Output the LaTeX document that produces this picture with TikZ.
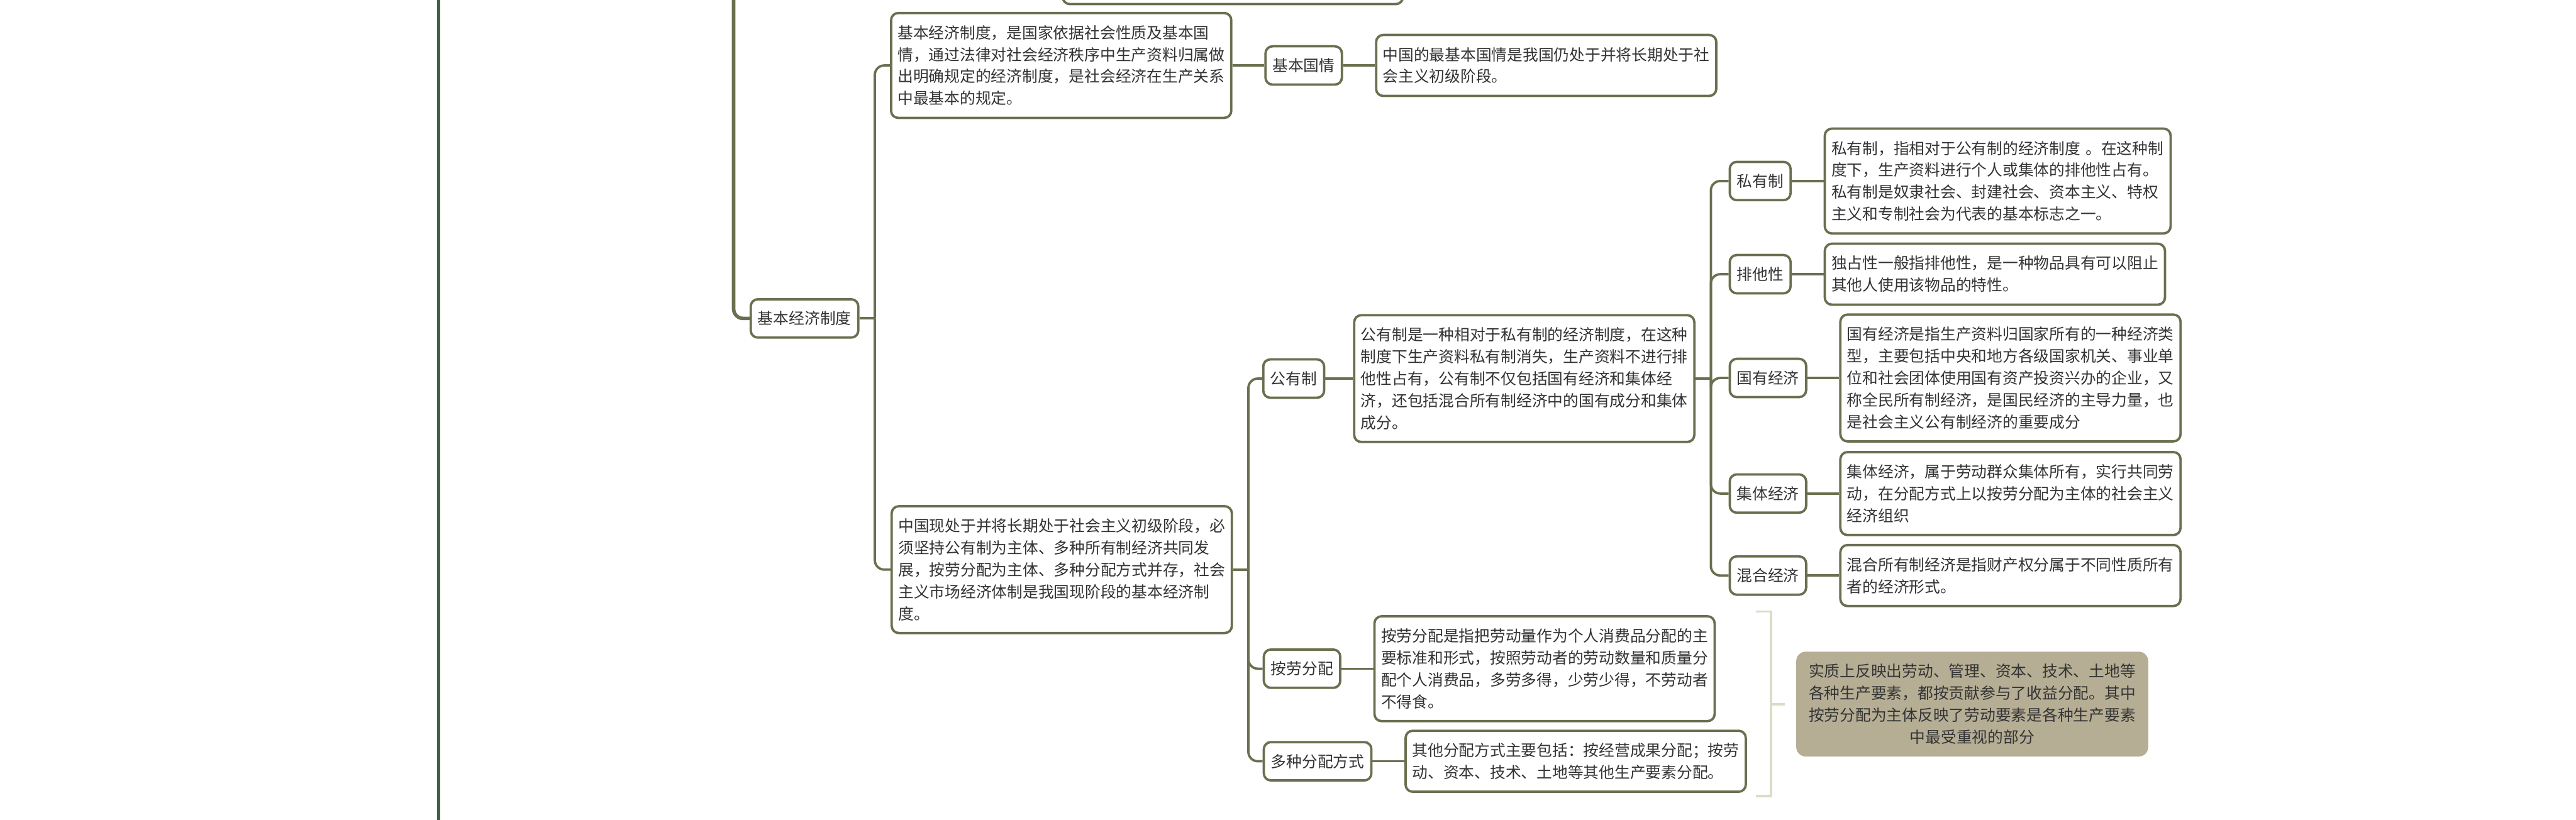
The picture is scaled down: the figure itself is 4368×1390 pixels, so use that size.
\documentclass[tikz,border=0pt]{standalone}
\usepackage{fontspec}
\setmainfont{Noto Sans CJK SC}
\usetikzlibrary{positioning}
\definecolor{mapline}{HTML}{6B6F4F}
\definecolor{maintrunk}{HTML}{3E6342}
\definecolor{txt}{HTML}{333333}
\definecolor{bracketc}{HTML}{DADCC8}
\definecolor{sumfill}{HTML}{B5AD94}

\begin{document}
\begin{tikzpicture}[x=0.25pt, y=-0.25pt,
        font=\fontsize{6.6pt}{9.3pt}\selectfont, text=txt,
        topic/.style={rectangle, draw=mapline, line width=1pt, rounded corners=3pt,
                      fill=white, inner xsep=3pt, inner ysep=2pt,
                      minimum height=16.25pt, anchor=west},
        note/.style={rectangle, draw=mapline, line width=1pt, rounded corners=3pt,
                     fill=white, text width=138.6pt, align=left,
                     inner xsep=2.8pt, inner ysep=2pt},
        nrow/.style={minimum height=#1*9.3pt+7.25pt},
        summ/.style={rectangle, fill=sumfill, rounded corners=4pt,
                     text width=138.6pt, align=center, inner xsep=5.3pt, inner ysep=2pt},
        link/.style={draw=mapline, line width=1pt, rounded corners=4pt},
        node distance=13.5pt]
      \useasboundingbox (0,0) rectangle (4368,1390);
      \clip (0,0) rectangle (4368,1390);

      \draw[maintrunk, line width=1.4pt] (744,-10) -- (744,1400);

      \node[note, minimum height=30pt, anchor=south west] (up) at (1800,9) {};

      \node[topic] (jbzd) at (1271,540) {基本经济制度};
      \draw[link, line width=1.5pt] (1244,-10) |- (jbzd.west);

      \node[note, nrow=4, anchor=west] (jd) at (1509,111)
           {基本经济制度，是国家依据社会性质及基本国\\情，通过法律对社会经济秩序中生产资料归属做\\出明确规定的经济制度，是社会经济在生产关系\\中最基本的规定。};
      \node[topic, right=of jd] (gq) {基本国情};
      \node[note, nrow=2, right=of gq] (gqd)
           {中国的最基本国情是我国仍处于并将长期处于社\\会主义初级阶段。};

      \node[note, nrow=5, anchor=west] (zg) at (1510,966)
           {中国现处于并将长期处于社会主义初级阶段，必\\须坚持公有制为主体、多种所有制经济共同发\\展，按劳分配为主体、多种分配方式并存，社会\\主义市场经济体制是我国现阶段的基本经济制\\度。};

      \node[topic] (gyz) at (2140,642) {公有制};
      \node[note, nrow=5, right=11.75pt of gyz] (gyzd)
           {公有制是一种相对于私有制的经济制度，在这种\\制度下生产资料私有制消失，生产资料不进行排\\他性占有，公有制不仅包括国有经济和集体经\\济，还包括混合所有制经济中的国有成分和集体\\成分。};

      \node[topic] (syz) at (2931,307) {私有制};
      \node[note, nrow=4, text width=141pt, right=of syz] (syzd)
           {私有制，指相对于公有制的经济制度 。在这种制\\度下，生产资料进行个人或集体的排他性占有。\\私有制是奴隶社会、封建社会、资本主义、特权\\主义和专制社会为代表的基本标志之一。};
      \node[topic] (pt) at (2931,465) {排他性};
      \node[note, nrow=2, right=of pt] (ptd)
           {独占性一般指排他性，是一种物品具有可以阻止\\其他人使用该物品的特性。};
      \node[topic] (gy) at (2931,641) {国有经济};
      \node[note, nrow=5, right=of gy] (gyd)
           {国有经济是指生产资料归国家所有的一种经济类\\型，主要包括中央和地方各级国家机关、事业单\\位和社会团体使用国有资产投资兴办的企业，又\\称全民所有制经济，是国民经济的主导力量，也\\是社会主义公有制经济的重要成分};
      \node[topic] (jt) at (2931,837) {集体经济};
      \node[note, nrow=3, right=of jt] (jtd)
           {集体经济，属于劳动群众集体所有，实行共同劳\\动，在分配方式上以按劳分配为主体的社会主义\\经济组织};
      \node[topic] (hh) at (2931,976) {混合经济};
      \node[note, nrow=2, right=of hh] (hhd)
           {混合所有制经济是指财产权分属于不同性质所有\\者的经济形式。};

      \node[topic] (al) at (2141,1134) {按劳分配};
      \node[note, nrow=4, right=of al] (ald)
           {按劳分配是指把劳动量作为个人消费品分配的主\\要标准和形式，按照劳动者的劳动数量和质量分\\配个人消费品，多劳多得，少劳少得，不劳动者\\不得食。};
      \node[topic] (dz) at (2141,1291) {多种分配方式};
      \node[note, nrow=2, right=of dz] (dzd)
           {其他分配方式主要包括：按经营成果分配；按劳\\动、资本、技术、土地等其他生产要素分配。};

      \node[summ, nrow=4, anchor=west] (zj) at (3045,1194)
           {实质上反映出劳动、管理、资本、技术、土地等\\各种生产要素，都按贡献参与了收益分配。其中\\按劳分配为主体反映了劳动要素是各种生产要素\\中最受重视的部分};

      \draw[link] (jbzd.east) -- ++(26,0) coordinate (s1);
      \draw[link] (s1) |- (jd.west);
      \draw[link] (s1) |- (zg.west);
      \draw[link] (jd.east) -- (gq.west);
      \draw[link] (gq.east) -- (gqd.west);

      \draw[link] (zg.east) -- ++(26,0) coordinate (s2);
      \foreach \k in {gyz, al, dz}
        \draw[link] (s2) |- (\k.west);
      \draw[link] (gyz.east) -- (gyzd.west);
      \draw[link] (al.east) -- (ald.west);
      \draw[link] (dz.east) -- (dzd.west);

      \draw[link] (gyzd.east) -- ++(26,0) coordinate (s3);
      \foreach \k in {syz, pt, gy, jt, hh}
        \draw[link] (s3) |- (\k.west);
      \draw[link] (syz.east) -- (syzd.west);
      \draw[link] (pt.east) -- (ptd.west);
      \draw[link] (gy.east) -- (gyd.west);
      \draw[link] (jt.east) -- (jtd.west);
      \draw[link] (hh.east) -- (hhd.west);

      \draw[bracketc, line width=1pt] (2977,1037) -- (3003,1037) -- (3003,1350) -- (2977,1350);
      \draw[bracketc, line width=1pt] (3003,1194) -- ++(23,0) coordinate (b1);
    \end{tikzpicture}
\end{document}
